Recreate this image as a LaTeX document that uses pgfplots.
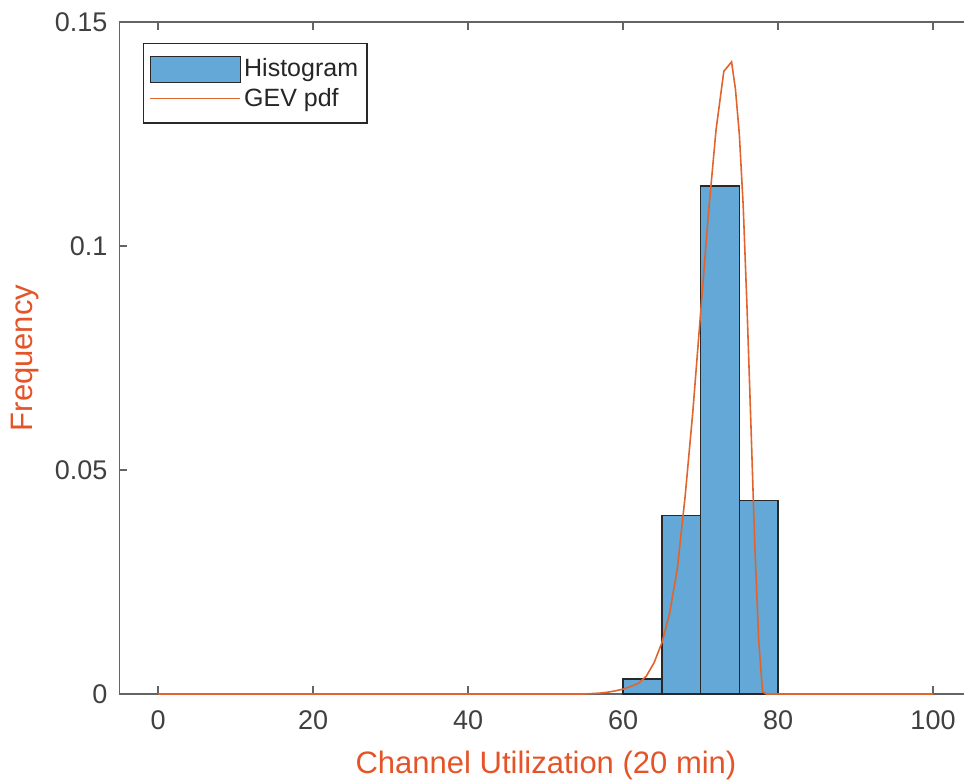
\documentclass[border=0pt]{standalone}
\usepackage{fontspec}
\setmainfont{Liberation Sans}
\usepackage{pgfplots}
\pgfplotsset{compat=1.18}
\definecolor{barfill}{RGB}{99,168,214}
\definecolor{baredge}{RGB}{40,40,40}
\definecolor{curve}{RGB}{225,100,45}
\definecolor{lblcol}{RGB}{228,84,40}
\definecolor{tickcol}{RGB}{64,64,64}
\definecolor{axcol}{RGB}{100,100,100}
\pgfplotsset{
  histlegend/.style={legend image code/.code={\draw[fill=barfill, draw=baredge, line width=0.7pt] (0pt,-6.5pt) rectangle (45pt,6.5pt);}},
  linelegend/.style={legend image code/.code={\draw[curve, line width=0.8pt] (0pt,0pt) -- (45pt,0pt);}},
}
\begin{document}
\begin{tikzpicture}
\begin{axis}[
  name=ax, at={(0,0)}, anchor=south west,
  scale only axis, width=422.25pt, height=336pt,
  xmin=-5, xmax=104, ymin=0, ymax=0.15,
  axis y line*=left,
  axis line style={axcol, line width=0.8pt},
  every tick/.style={axcol, line width=0.8pt},
  tick align=inside, major tick length=4pt,
  xtick={0,20,...,100},
  ytick={0,0.05,0.1,0.15},
  yticklabels={0,0.05,0.1,0.15},
  scaled y ticks=false,
  /pgf/number format/assume math mode=true,
  tick label style={font=\fontsize{13.5}{16}\selectfont, text=tickcol},
  xticklabel style={yshift=-5pt},
  yticklabel style={xshift=-2.5pt},
  xlabel={Channel Utilization (20 min)},
  ylabel={Frequency},
  label style={font=\fontsize{15.5}{18}\selectfont, text=lblcol},
  xlabel style={at={(axis description cs:0.505,-0.1057)}, anchor=center},
  ylabel style={at={(axis description cs:-0.112,0.5)}, anchor=center},
  legend style={at={(axis description cs:0.0278,0.9688)}, anchor=north west,
    draw=baredge, line width=0.6pt, font=\fontsize{12.5}{15}\selectfont,
    inner xsep=3pt, inner ysep=6pt, row sep=1.5pt, text=black!85,
    nodes={inner xsep=1.5pt, inner ysep=1pt}},
  legend cell align=left,
]
\addplot[ybar interval, fill=barfill, draw=baredge, line width=0.7pt, histlegend]
  coordinates {(60,0.00335) (65,0.0399) (70,0.1134) (75,0.0432) (80,0.0432)};
\addlegendentry{Histogram}
\addplot[curve, line width=0.8pt, mark=none, linelegend] coordinates {
  (0,0) (50,0) (55,0) (56,0.0001) (57,0.0002) (58,0.0004) (59,0.0007)
  (60,0.0011) (61,0.0017) (62,0.0024) (63,0.0040) (64,0.0070) (65,0.0114)
  (66,0.0180) (67,0.0280) (68,0.0440) (69,0.0630) (70,0.0850) (71,0.1070)
  (72,0.1260) (73,0.1390) (74,0.1411) (74.5,0.1350) (75,0.1250) (75.5,0.1090)
  (76,0.0860) (76.5,0.0600) (77,0.0330) (77.5,0.0120) (78,0.0005) (78.5,0) (100,0)};
\addlegendentry{GEV pdf}
\end{axis}
\pgfresetboundingbox
\path (-59.75pt,-44.5pt) rectangle (422.25pt,347pt);
\end{tikzpicture}
\end{document}
